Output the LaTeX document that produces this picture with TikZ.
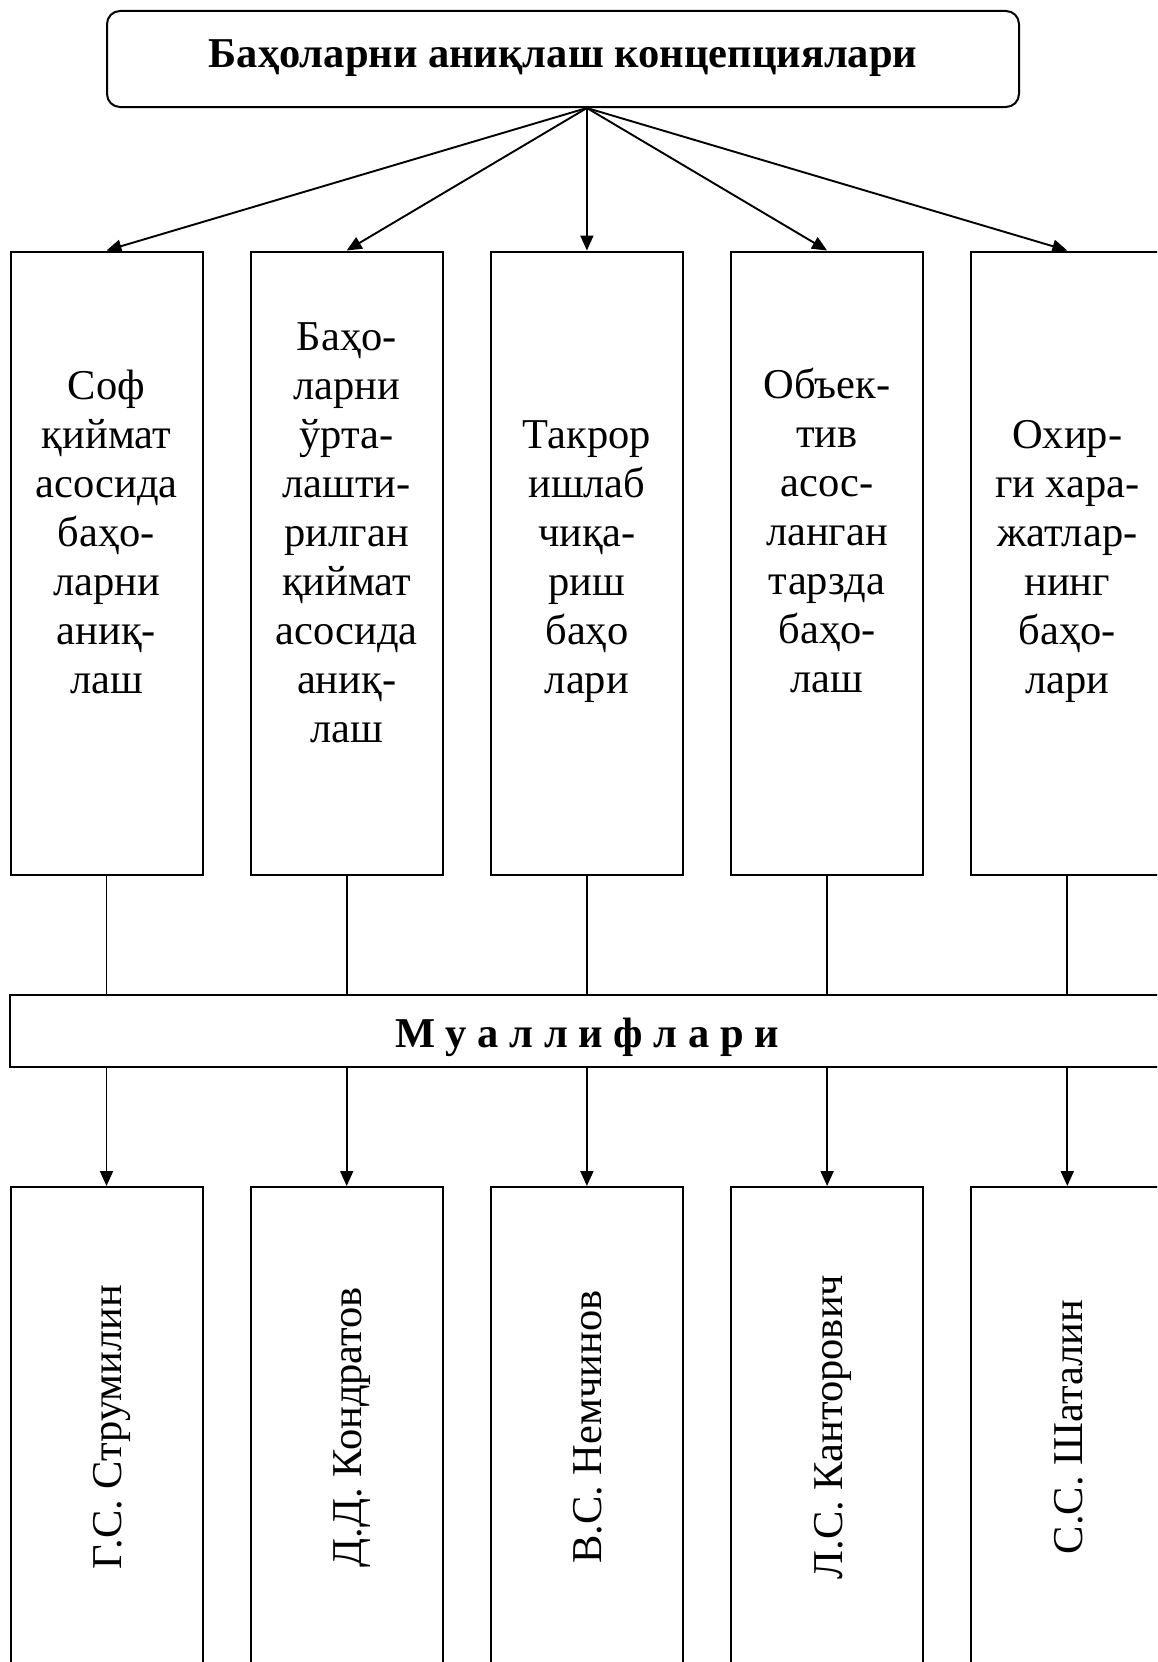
\documentclass[tikz,border=0pt]{standalone}
\usepackage{fontspec}
\setmainfont{Liberation Serif}
\usetikzlibrary{arrows.meta,calc}
\newcommand\bodyfont{\fontsize{42.5}{49}\selectfont}
\begin{document}
\begin{tikzpicture}[x=1pt,y=-1pt,
  box/.style={draw, line width=2pt, minimum width=192pt, inner sep=0pt},
  conn/.style={line width=1.9pt},
  arr/.style={conn, -{Triangle[length=15pt,width=13pt]}},
  lbl/.style={inner sep=0pt, anchor=base, font=\bodyfont},
]
\useasboundingbox (0,0) rectangle (1157,1662);
\clip (0,0) rectangle (1157,1662);

% top box
\node[draw, rounded corners=13pt, line width=2pt, minimum width=912pt, minimum height=96pt, inner sep=0pt] (top) at (563,59) {};
\node[lbl, font=\bodyfont\bfseries] (title) at (563,67) {Баҳоларни аниқлаш концепциялари};

% concept boxes and author boxes
\foreach \i in {1,...,5}{
  \node[box, minimum height=623.5pt] (c\i) at ({106.5+240.2*(\i-1)}, 563.25) {};
  \node[box, minimum height=600pt] (a\i) at ({106.5+240.2*(\i-1)}, 1487) {};
}

% authors bar
\node[draw, line width=2pt, minimum width=1154pt, minimum height=72pt, inner sep=0pt] (m) at (587,1031) {};
\node[lbl, font=\bodyfont\bfseries] (mt) at (587,1047) {М у а л л и ф л а р и};

% concept texts
\node[lbl] (t1) at (106.5,399) {\begin{tabular}[t]{@{}c@{}}Соф\\ қиймат\\ асосида\\ баҳо-\\ ларни\\ аниқ-\\ лаш\end{tabular}};
\node[lbl] (t2) at (346.7,350) {\begin{tabular}[t]{@{}c@{}}Баҳо-\\ ларни\\ ўрта-\\ лашти-\\ рилган\\ қиймат\\ асосида\\ аниқ-\\ лаш\end{tabular}};
\node[lbl] (t3) at (586.9,448) {\begin{tabular}[t]{@{}c@{}}Такрор\\ ишлаб\\ чиқа-\\ риш\\ баҳо\\ лари\end{tabular}};
\node[lbl] (t4) at (827.1,398) {\begin{tabular}[t]{@{}c@{}}Объек-\\ тив\\ асос-\\ ланган\\ тарзда\\ баҳо-\\ лаш\end{tabular}};
\node[lbl] (t5) at (1067.3,448) {\begin{tabular}[t]{@{}c@{}}Охир-\\ ги хара-\\ жатлар-\\ нинг\\ баҳо-\\ лари\end{tabular}};

% author names (rotated)
\node[lbl, rotate=90] (n1) at (121.5,1427) {Г.С. Струмилин};
\node[lbl, rotate=90] (n2) at (361.7,1427) {Д.Д. Кондратов};
\node[lbl, rotate=90] (n3) at (601.9,1427) {В.С. Немчинов};
\node[lbl, rotate=90] (n4) at (842.1,1427) {Л.С. Канторович};
\node[lbl, rotate=90] (n5) at (1082.3,1427) {С.С. Шаталин};

% connectors
\foreach \i in {1,...,5}{
  \draw[arr] (c3.north |- top.south) -- (c\i.north);
  \draw[conn] (c\i.south) -- (c\i.south |- m.north);
  \draw[arr] (c\i.south |- m.south) -- (a\i.north);
}
\end{tikzpicture}
\end{document}
